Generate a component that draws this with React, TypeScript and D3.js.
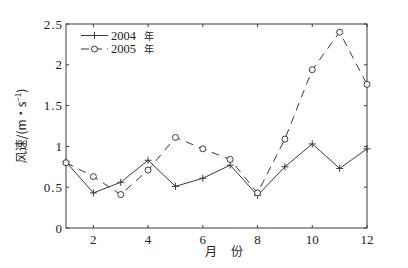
import { useEffect } from 'react'
import { line, scaleLinear } from 'd3'

const months = [1, 2, 3, 4, 5, 6, 7, 8, 9, 10, 11, 12]
const speed2004 = [0.81, 0.43, 0.56, 0.83, 0.51, 0.61, 0.77, 0.4, 0.75, 1.03, 0.73, 0.97]
const speed2005 = [0.8, 0.63, 0.41, 0.71, 1.11, 0.97, 0.84, 0.43, 1.09, 1.94, 2.4, 1.76]
const xTicks = [2, 4, 6, 8, 10, 12]
const yTicks = [0, 0.5, 1, 1.5, 2, 2.5]
const yTickLabels = ['0', '0.5', '1', '1.5', '2', '2.5']
const legendYears = ['2004', '2005']

const width = 408
const height = 268
const left = 66
const right = 367
const top = 24
const bottom = 228
const ink = '#3a3a3a'
const serif = "'Liberation Serif', 'DejaVu Serif', serif"
const cjk = "'Noto Sans CJK SC', sans-serif"

type Point = { month: number; value: number }

export default function App() {
  useEffect(() => {
    document.body.style.margin = '0'
  }, [])

  const x = scaleLinear().domain([1, 12]).range([left, right])
  const y = scaleLinear().domain([0, 2.5]).range([bottom, top])
  const path = line<Point>()
    .x((d) => x(d.month))
    .y((d) => y(d.value))

  const points2004 = months.map((month, i) => ({ month, value: speed2004[i] }))
  const points2005 = months.map((month, i) => ({ month, value: speed2005[i] }))

  const legendY = [35.5, 49]

  return (
    <svg width={width} height={height} style={{ display: 'block', background: '#fff' }}>
      <rect x={left} y={top} width={right - left} height={bottom - top} fill="none" stroke={ink} strokeWidth={1} />

      {xTicks.map((t) => (
        <g key={`x${t}`}>
          <line x1={x(t)} x2={x(t)} y1={bottom} y2={bottom - 3} stroke={ink} />
          <line x1={x(t)} x2={x(t)} y1={top} y2={top + 3} stroke={ink} />
          <text x={x(t)} y={bottom + 16} textAnchor="middle" style={{ fontFamily: serif, fontSize: 13 }} fill="#222">
            {t}
          </text>
        </g>
      ))}

      {yTicks.map((t, i) => (
        <g key={`y${t}`}>
          <line x1={left} x2={left + 3} y1={y(t)} y2={y(t)} stroke={ink} />
          <line x1={right} x2={right - 3} y1={y(t)} y2={y(t)} stroke={ink} />
          <text x={left - 3} y={y(t) + 4.5} textAnchor="end" style={{ fontFamily: serif, fontSize: 13, letterSpacing: 1 }} fill="#222">
            {yTickLabels[i]}
          </text>
        </g>
      ))}

      <path d={path(points2004) ?? ''} fill="none" stroke={ink} strokeWidth={1} />
      {points2004.map((p) => (
        <g key={`p4-${p.month}`} stroke={ink} strokeWidth={1}>
          <line x1={x(p.month) - 3.5} x2={x(p.month) + 3.5} y1={y(p.value)} y2={y(p.value)} />
          <line x1={x(p.month)} x2={x(p.month)} y1={y(p.value) - 3.5} y2={y(p.value) + 3.5} />
        </g>
      ))}

      <path d={path(points2005) ?? ''} fill="none" stroke={ink} strokeWidth={1} strokeDasharray="8 6" />
      {points2005.map((p) => (
        <circle key={`p5-${p.month}`} cx={x(p.month)} cy={y(p.value)} r={3} fill="#fff" stroke={ink} strokeWidth={1} />
      ))}

      {/* legend */}
      <line x1={81} x2={108} y1={legendY[0]} y2={legendY[0]} stroke={ink} />
      <line x1={94.5} x2={94.5} y1={legendY[0] - 3.5} y2={legendY[0] + 3.5} stroke={ink} />
      <line x1={81} x2={108} y1={legendY[1]} y2={legendY[1]} stroke={ink} strokeDasharray="8 5" />
      <circle cx={94.5} cy={legendY[1]} r={3} fill="#fff" stroke={ink} />
      {legendYears.map((year, i) => (
        <g key={year}>
          <text x={111} y={legendY[i] + 4} style={{ fontFamily: serif, fontSize: 12.5 }} fill="#222">
            {year}
          </text>
          <text x={144} y={legendY[i] + 4} style={{ fontFamily: cjk, fontSize: 10 }} fill="#222">
            年
          </text>
        </g>
      ))}

      <text
        transform={`translate(26, ${(top + bottom) / 2}) rotate(-90)`}
        textAnchor="middle"
        style={{ fontFamily: cjk, fontSize: 12 }}
        fill="#222"
      >
        风速/(m·s
        <tspan dy={-5} style={{ fontSize: 8 }}>−1</tspan>
        <tspan dy={5}>)</tspan>
      </text>

      <text x={211} y={256} textAnchor="middle" style={{ fontFamily: cjk, fontSize: 12 }} fill="#222">
        月
      </text>
      <text x={237} y={256} textAnchor="middle" style={{ fontFamily: cjk, fontSize: 12 }} fill="#222">
        份
      </text>
    </svg>
  )
}
